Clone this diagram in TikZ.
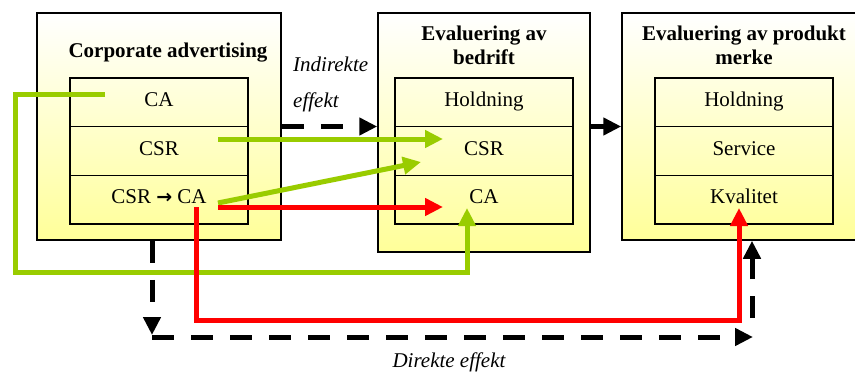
\documentclass[tikz,border=0pt]{standalone}
\usepackage{fontspec}
\setmainfont{Liberation Serif}
\newfontfamily\arrowfont{DejaVu Sans}
\usetikzlibrary{arrows.meta}
\definecolor{leafgreen}{RGB}{153,204,0}
\newcommand\diagfont{\fontsize{21}{24}\selectfont}
\tikzset{outerbox/.style = {draw, line width = 1.5pt, top color = white, bottom color = yellow!40, inner sep = 0pt}}
\tikzset{rowbox/.style = {draw, line width = 1.5pt, minimum width = 178pt, minimum height = 48.67pt, inner sep = 0pt, font = \diagfont, text height = 14pt, text depth = 6pt}}
\tikzset{heading/.style = {font = \diagfont\bfseries, align = center, inner sep = 0pt}}
\tikzset{effect/.style = {font = \diagfont\itshape, inner sep = 0pt}}
\tikzset{headtip/.style = {-{Triangle[length = 18pt, width = 17pt]}, line width = 5pt}}
\tikzset{solidlink/.style = {headtip}}
\tikzset{dashlink/.style = {headtip, dash pattern = on 22pt off 17pt}}
\tikzset{greenlink/.style = {headtip, draw = leafgreen}}
\tikzset{redlink/.style = {headtip, draw = red}}

\begin{document}
\begin{tikzpicture}[x = 1pt, y = -1pt]
	\clip (0, 0) rectangle (855, 372);

	% Corporate advertising
	\node[outerbox, minimum width = 244pt, minimum height = 227pt] (adbox) at (159, 126.5) {};
	\node[heading, anchor = base] (adtitle) at (168, 57) {Corporate advertising};
	\node[rowbox] (adca) at (159, 102.33) {CA};
	\node[rowbox] (adcsr) at (159, 151) {CSR};
	\node[rowbox] (admix) at (159, 199.67) {CSR {\arrowfont\bfseries\fontsize{19}{24}\selectfont →} CA};

	% Evaluering av bedrift
	\node[outerbox, minimum width = 212pt, minimum height = 239pt] (evbox) at (484, 132.5) {};
	\node[heading] (evtitle) at (484, 45) {Evaluering av\\bedrift};
	\node[rowbox] (evhold) at (484, 102.33) {Holdning};
	\node[rowbox] (evcsr) at (484, 151) {CSR};
	\node[rowbox] (evca) at (484, 199.67) {CA};

	% Evaluering av produkt merke
	\node[outerbox, minimum width = 244pt, minimum height = 227pt] (pmbox) at (744, 126.5) {};
	\node[heading] (pmtitle) at (744, 45) {Evaluering av produkt\\merke};
	\node[rowbox] (pmhold) at (744, 102.33) {Holdning};
	\node[rowbox] (pmserv) at (744, 151) {Service};
	\node[rowbox] (pmkval) at (744, 199.67) {Kvalitet};

	\node[effect, align = left, anchor = north west] (indirect) at (293, 57) {Indirekte\\[12pt]effekt};
	\node[effect] (direct) at (449, 362) {Direkte effekt};

	\coordinate (adca out) at (105, 94);
	\coordinate (adcsr out) at (218, 139);
	\coordinate (admix green) at (218, 203);
	\coordinate (admix red) at (218, 207);
	\coordinate (admix down) at (196, 207);
	\coordinate (evcsr in) at (443, 139);
	\coordinate (evcsr low) at (421, 162);
	\coordinate (evca in) at (443, 207);
	\coordinate (evca up) at (467, 208);
	\coordinate (pmkval in) at (739, 208);
	\coordinate (direct corner) at (152, 337);
	\coordinate (direct end) at (753, 337);
	\coordinate (direct rise) at (752, 318);

	\draw[dashlink] (adbox.east) -- (adbox.east -| evbox.west);
	\draw[solidlink] (evbox.east |- pmbox.west) -- (pmbox.west);

	\draw[greenlink] (adca out) -| (15, 272) -| (evca up);
	\draw[greenlink] (adcsr out) -- (evcsr in);
	\draw[greenlink] (admix green) -- (evcsr low);
	\draw[redlink] (admix red) -- (evca in);
	\draw[redlink] (admix down) |- (739, 320) -- (pmkval in);

	\draw[dashlink] ([xshift = -7pt]adbox.south) -- ([yshift = 2pt]direct corner);
	\draw[dashlink] (direct corner) -- (direct end);
	\draw[dashlink] (direct rise) -- (direct rise |- pmbox.south);
\end{tikzpicture}
\end{document}
